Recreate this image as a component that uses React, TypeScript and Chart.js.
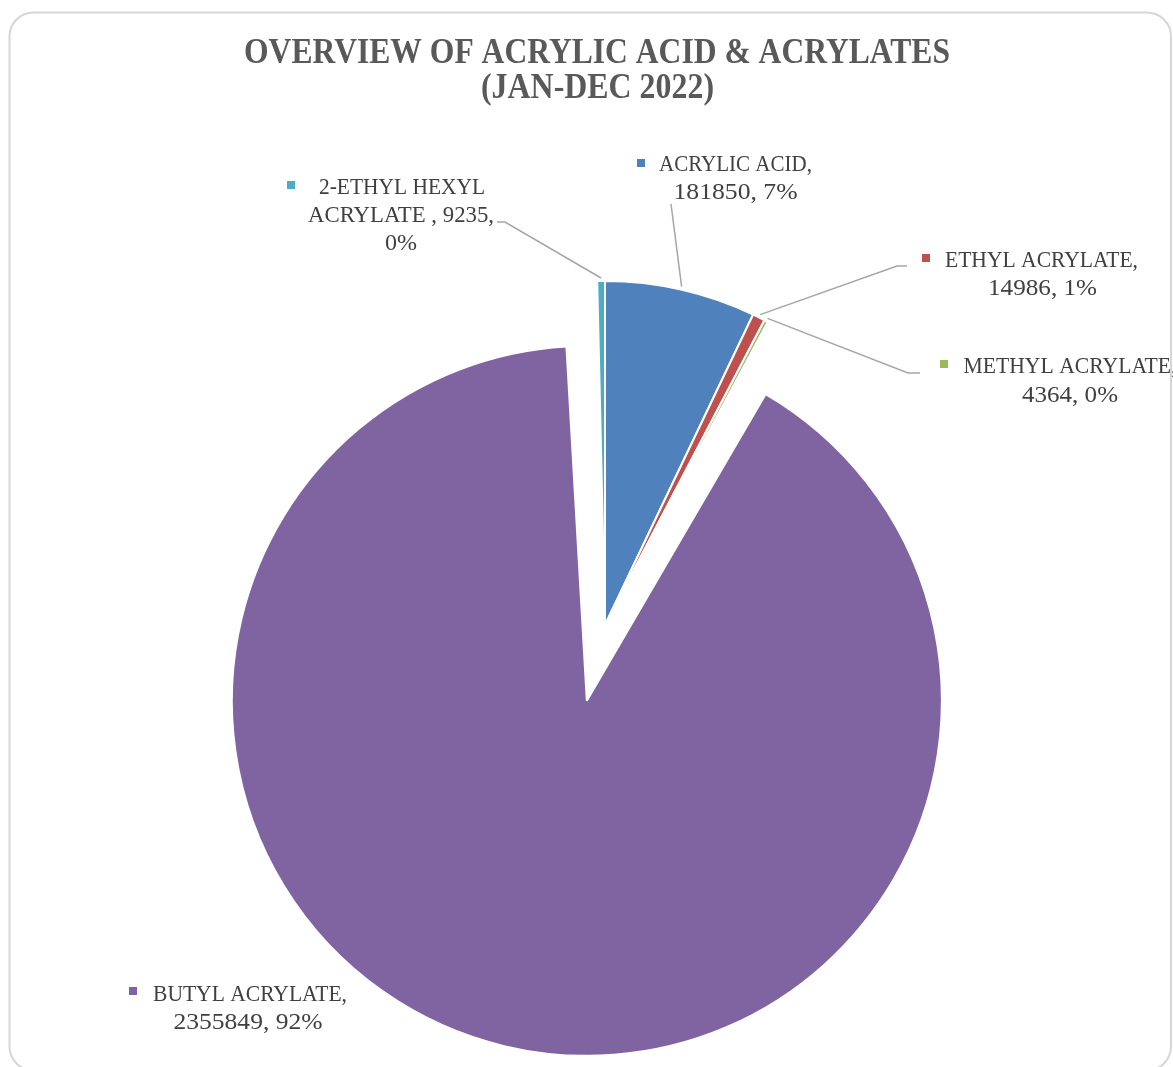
import React, { useEffect, useRef } from "react";
import { Chart, registerables } from "chart.js";

Chart.register(...registerables);

// ---- data ----
const CATEGORIES = [
  "ACRYLIC ACID",
  "ETHYL ACRYLATE",
  "METHYL ACRYLATE",
  "BUTYL ACRYLATE",
  "2-ETHYL HEXYL ACRYLATE ",
];
const VALUES = [181850, 14986, 4364, 2355849, 9235];
const TITLE_LINES = ["OVERVIEW OF ACRYLIC ACID & ACRYLATES", "(JAN-DEC 2022)"];

// ---- styles / layout ----
const COLORS = ["#4F81BD", "#C0504D", "#9BBB59", "#8064A2", "#4BACC6"];
const EXPLODE_PX = [0, 0, 0, 78, 0];
const EXPLODED_RADIUS_GROWTH = 11;
const W = 1173;
const H = 1067;
const PIE_RADIUS = 344;
const TEXT_COLOR = "#404040";
const TITLE_COLOR = "#595959";
const LEADER_COLOR = "#a6a6a6";
const LABEL_FONT = "24px 'Liberation Serif', 'Times New Roman', serif";
const TITLE_FONT = "bold 35px 'Liberation Serif', 'Times New Roman', serif";

// title lines: [centerX, baseline, width]
const TITLE_LAYOUT = [
  [597, 63, 706],
  [597.5, 98, 233],
];

// per label: words per line (rest goes on last line), marker [x, y], lines [cx, baseline, width], leader points
const LABEL_LAYOUT = [
  { words: [2], marker: [637, 159], lines: [[735.5, 171, 153], [735.5, 199, 124]], leader: [[671, 204]] },
  { words: [2], marker: [922, 254], lines: [[1041.5, 267, 193], [1042.5, 295, 109]], leader: [[897, 266], [907, 266]] },
  { words: [2], marker: [940, 360], lines: [[1070, 373, 213], [1070, 402, 96]], leader: [[908, 373], [920, 373]] },
  { words: [2], marker: [129, 987], lines: [[250, 1001, 194], [248, 1029, 149]], leader: [] },
  { words: [2, 3], marker: [287, 181], lines: [[402, 194, 166], [401, 222, 186], [401, 250, 32]], leader: [[505, 222], [497, 222]] },
];

function splitLines(text: string, counts: number[]): string[] {
  const words = text.split(" ");
  const out: string[] = [];
  let idx = 0;
  for (const c of counts) {
    out.push(words.slice(idx, idx + c).join(" "));
    idx += c;
  }
  out.push(words.slice(idx).join(" "));
  return out;
}

function fitText(ctx: CanvasRenderingContext2D, text: string, cx: number, baseline: number, width: number) {
  const w = ctx.measureText(text).width || 1;
  ctx.save();
  ctx.translate(cx, baseline);
  ctx.scale(width / w, 1);
  ctx.textAlign = "center";
  ctx.textBaseline = "alphabetic";
  ctx.fillText(text, 0, 0);
  ctx.restore();
}

function roundRect(ctx: CanvasRenderingContext2D, x: number, y: number, w: number, h: number, r: number) {
  ctx.beginPath();
  ctx.moveTo(x + r, y);
  ctx.lineTo(x + w - r, y);
  ctx.arcTo(x + w, y, x + w, y + r, r);
  ctx.lineTo(x + w, y + h - r);
  ctx.arcTo(x + w, y + h, x + w - r, y + h, r);
  ctx.lineTo(x + r, y + h);
  ctx.arcTo(x, y + h, x, y + h - r, r);
  ctx.lineTo(x, y + r);
  ctx.arcTo(x, y, x + r, y, r);
  ctx.closePath();
}

const decorPlugin = {
  id: "decor",
  afterDatasetsUpdate(chart: any) {
    const meta = chart.getDatasetMeta(0);
    meta.data.forEach((el: any, i: number) => {
      if (EXPLODE_PX[i]) {
        el.outerRadius = el.outerRadius - EXPLODE_PX[i] + EXPLODED_RADIUS_GROWTH;
      }
    });
  },
  beforeDraw(chart: any) {
    const ctx = chart.ctx as CanvasRenderingContext2D;
    ctx.save();
    ctx.fillStyle = "#ffffff";
    ctx.fillRect(0, 0, W, H);
    roundRect(ctx, 9.5, 12.5, 1161.5, 1058, 24);
    ctx.strokeStyle = "#d6d6d6";
    ctx.lineWidth = 2;
    ctx.stroke();
    ctx.fillStyle = TITLE_COLOR;
    ctx.font = TITLE_FONT;
    TITLE_LINES.forEach((t, i) => {
      const [cx, by, w] = TITLE_LAYOUT[i];
      fitText(ctx, t, cx, by, w);
    });
    ctx.restore();
  },
  afterDatasetsDraw(chart: any) {
    const ctx = chart.ctx as CanvasRenderingContext2D;
    const meta = chart.getDatasetMeta(0);
    const total = VALUES.reduce((a, b) => a + b, 0);
    ctx.save();
    VALUES.forEach((v, i) => {
      const layout = LABEL_LAYOUT[i];
      const el = meta.data[i];
      const mid = (el.startAngle + el.endAngle) / 2;
      const r = el.outerRadius + 3;
      const ax = el.x + Math.cos(mid) * r;
      const ay = el.y + Math.sin(mid) * r;
      if (layout.leader.length) {
        ctx.beginPath();
        ctx.moveTo(ax, ay);
        layout.leader.forEach(([px, py]) => ctx.lineTo(px, py));
        ctx.strokeStyle = LEADER_COLOR;
        ctx.lineWidth = 1.5;
        ctx.stroke();
      }
      const [mx, my] = layout.marker;
      ctx.fillStyle = COLORS[i];
      ctx.fillRect(mx, my, 8, 8);
      const text = `${CATEGORIES[i]}, ${v}, ${Math.round((v / total) * 100)}%`;
      const lines = splitLines(text, layout.words);
      ctx.fillStyle = TEXT_COLOR;
      ctx.font = LABEL_FONT;
      lines.forEach((ln, j) => {
        const [cx, by, w] = layout.lines[j];
        fitText(ctx, ln, cx, by, w);
      });
    });
    ctx.restore();
  },
};

export default function App() {
  const ref = useRef<HTMLCanvasElement | null>(null);
  useEffect(() => {
    if (!ref.current) return;
    const chart = new Chart(ref.current, {
      type: "pie",
      data: {
        labels: CATEGORIES,
        datasets: [
          {
            data: VALUES,
            backgroundColor: COLORS,
            borderColor: "#ffffff",
            borderWidth: 2,
            offset: EXPLODE_PX.map((p) => p * 4),
          },
        ],
      },
      options: {
        responsive: false,
        animation: false,
        events: [],
        radius: PIE_RADIUS,
        layout: { padding: { left: 37, top: 183, right: 0, bottom: 0 } },
        plugins: {
          legend: { display: false },
          tooltip: { enabled: false },
          title: { display: false },
        },
      } as any,
      plugins: [decorPlugin],
    });
    return () => chart.destroy();
  }, []);
  return (
    <div style={{ position: "absolute", left: 0, top: 0, width: W, height: H }}>
      <canvas ref={ref} width={W} height={H} style={{ display: "block" }} />
    </div>
  );
}
